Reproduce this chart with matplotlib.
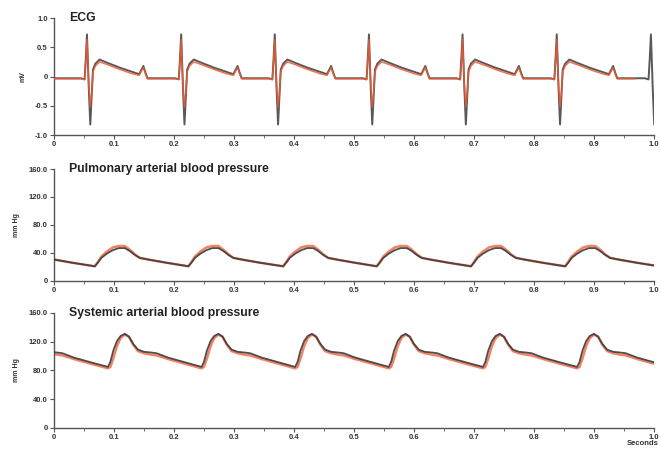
import numpy as np
import matplotlib
matplotlib.use("Agg")
import matplotlib.pyplot as plt
from matplotlib.ticker import MultipleLocator

plt.rcParams["font.family"] = ["Liberation Sans", "DejaVu Sans"]

# ── Data ──────────────────────────────────────────────────────────────────────
# ECG: one beat template (offset from R peak, mV) and R-peak times
ecg_r_times = [-0.102, 0.055, 0.212, 0.368, 0.525, 0.681, 0.838, 0.995]
ecg_dt      = [-0.010, -0.004, -0.002, 0.000, 0.003, 0.0055, 0.008, 0.010, 0.014, 0.021,
               0.035, 0.055, 0.075, 0.087, 0.090, 0.094, 0.098, 0.101, 0.130]
ecg_black   = [-0.03, -0.05, 0.30, 0.72, -0.20, -0.82, -0.30, 0.12, 0.22, 0.29,
               0.23, 0.15, 0.08, 0.04, 0.10, 0.18, 0.05, -0.03, -0.03]
ecg_red     = [-0.04, -0.05, 0.25, 0.63, -0.15, -0.52, -0.25, 0.08, 0.18, 0.25,
               0.20, 0.12, 0.05, 0.02, 0.08, 0.15, 0.03, -0.04, -0.04]

# Pulmonary arterial pressure: template from diastolic minimum (mm Hg)
pap_min_times = [-0.089, 0.068, 0.224, 0.382, 0.538, 0.695, 0.852, 1.009]
pap_dt        = [0.000, 0.005, 0.011, 0.020, 0.030, 0.040, 0.050, 0.058, 0.067, 0.075, 0.090, 0.120]
pap_black     = [21, 26, 33, 39, 44, 47, 47, 43, 37, 33, 30.5, 26]
pap_red       = [21, 27, 35, 42, 48, 50, 50, 45, 38, 33, 30.5, 26]

# Systemic arterial pressure: template from diastolic minimum (mm Hg)
sap_min_times = [-0.067, 0.090, 0.246, 0.402, 0.558, 0.715, 0.872, 1.029]
sap_dt        = [0.000, 0.004, 0.009, 0.015, 0.021, 0.028, 0.035, 0.042, 0.050, 0.060,
               0.072, 0.081, 0.100, 0.130]
sap_black     = [85, 92, 108, 121, 128, 131, 127, 117, 109, 106, 105, 104, 98, 91]
sap_red       = [83, 85, 97, 114, 125, 130, 127, 116, 107, 104, 102, 101, 96, 89]

x_ticks  = [0, 0.1, 0.2, 0.3, 0.4, 0.5, 0.6, 0.7, 0.8, 0.9, 1.0]
x_labels = ["0", "0.1", "0.2", "0.3", "0.4", "0.5", "0.6", "0.7", "0.8", "0.9", "1.0"]
ecg_yticks  = [-1.0, -0.5, 0, 0.5, 1.0]
ecg_ylabels = ["-1.0", "-0.5", "0", "0.5", "1.0"]
bp_yticks   = [0, 40, 80, 120, 160]
bp_ylabels  = ["0", "40.0", "80.0", "120.0", "160.0"]


def tile(times, dt, vals):
    t = np.concatenate([tb + np.array(dt) for tb in times])
    v = np.concatenate([np.array(vals) for _ in times])
    keep = (t >= -0.03) & (t <= 1.03)
    return t[keep], v[keep]


BLACK = "#3b3b3b"
RED = "#ee5a32"

fig = plt.figure(figsize=(6.6, 4.49), dpi=100)
ax_ecg = fig.add_axes([0.0818, 0.6993, 0.909, 0.2606])
ax_pap = fig.add_axes([0.0818, 0.3742, 0.909, 0.2494])
ax_sap = fig.add_axes([0.0818, 0.0468, 0.909, 0.2561])

# ECG
t, v = tile(ecg_r_times, ecg_dt, ecg_black)
ax_ecg.plot(t, v, color=BLACK, lw=1.4, alpha=0.85, zorder=2)
t, v = tile(ecg_r_times[:-1], ecg_dt, ecg_red)
ax_ecg.plot(t, v, color=RED, lw=1.1, alpha=0.85, zorder=3)

# Pulmonary
t, v = tile(pap_min_times, pap_dt, pap_red)
ax_pap.plot(t, v, color=RED, lw=1.8, alpha=0.75, zorder=2)
t, v = tile(pap_min_times, pap_dt, pap_black)
ax_pap.plot(t, v, color=BLACK, lw=1.3, alpha=0.9, zorder=3)

# Systemic
t, v = tile(sap_min_times, sap_dt, sap_red)
ax_sap.plot(t, v, color=RED, lw=1.8, alpha=0.75, zorder=2)
t, v = tile(sap_min_times, sap_dt, sap_black)
ax_sap.plot(t, v, color=BLACK, lw=1.3, alpha=0.9, zorder=3)

titles = ["ECG", "Pulmonary arterial blood pressure", "Systemic arterial blood pressure"]
ylabels = ["mV", "mm Hg", "mm Hg"]
for ax, title, ylab in zip([ax_ecg, ax_pap, ax_sap], titles, ylabels):
    ax.set_xlim(0, 1.0)
    for side in ("top", "right"):
        ax.spines[side].set_visible(False)
    for side in ("left", "bottom"):
        ax.spines[side].set_color("#555555")
        ax.spines[side].set_linewidth(1.0)
    ax.set_xticks(x_ticks)
    ax.set_xticklabels(x_labels)
    ax.xaxis.set_minor_locator(MultipleLocator(0.05))
    ax.tick_params(axis="both", which="major", length=3, width=0.8, colors="#555555",
                   labelsize=5.5, labelcolor="#333333", pad=1.5)
    ax.tick_params(axis="x", which="minor", length=2, width=0.6, colors="#555555")
    for lbl in ax.get_xticklabels() + ax.get_yticklabels():
        lbl.set_fontweight("bold")
    ax.text(0.025, 1.0, title, transform=ax.transAxes, fontsize=8.8, fontweight="bold",
            color="#222222", va="center", ha="left")
    ax.set_ylabel(ylab, fontsize=5, fontweight="bold", color="#333333", labelpad=6)

ax_ecg.set_ylim(-1.0, 1.0)
ax_ecg.set_yticks(ecg_yticks)
ax_ecg.set_yticklabels(ecg_ylabels, fontweight="bold")
for ax in (ax_pap, ax_sap):
    ax.set_ylim(0, 160)
    ax.set_yticks(bp_yticks)
    ax.set_yticklabels(bp_ylabels, fontweight="bold")

fig.text(0.998, 0.004, "Seconds", fontsize=5.5, fontweight="bold", color="#333333",
         ha="right", va="bottom")

fig.savefig("out.png", dpi=100)
